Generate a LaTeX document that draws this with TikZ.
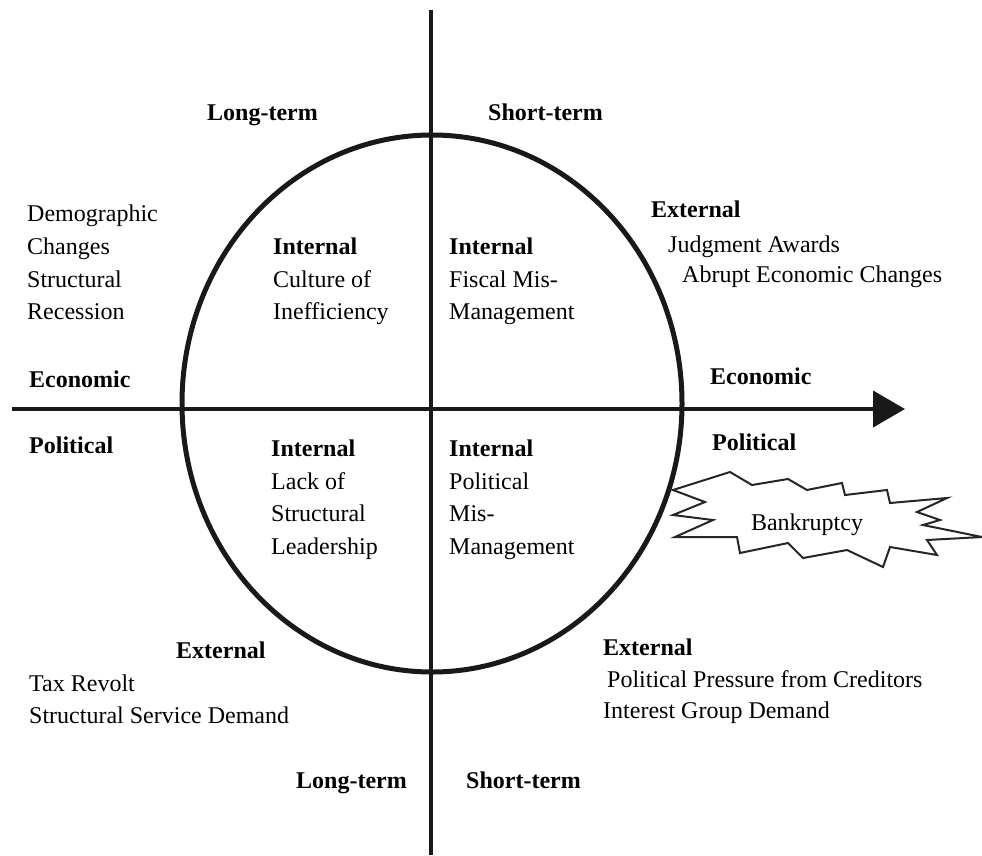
\documentclass[tikz,border=0pt]{standalone}
\usepackage{fontspec}
\setmainfont{Liberation Serif}
\usetikzlibrary{arrows.meta}
\begin{document}
\begin{tikzpicture}[x=1pt,y=-1pt,
  txt/.style={anchor=base west,inner sep=0pt,font=\fontsize{24}{28}\selectfont},
  btxt/.style={txt,font=\fontsize{24}{28}\selectfont\bfseries},
  axis/.style={line width=4pt,black!90},
  ring/.style={line width=5pt,black!90},
  burst/.style={line width=2pt,black!85,fill=white,line join=miter}]
\useasboundingbox (0,0) rectangle (982,855);
\fill[white] (0,0) rectangle (982,855);
% axes
\coordinate (vtop) at (431,10);
\coordinate (vbot) at (431,855);
\coordinate (hl) at (12,409);
\coordinate (hr) at (905,409);
\draw[axis] (vtop) -- (vbot);
\draw[axis,-{Triangle[length=32pt,width=36pt]}] (hl) -- (hr);
% circle
\coordinate (c) at (432,403.5);
\draw[ring] (c) ellipse [x radius=250, y radius=268.5];
% top labels
\node[btxt] (lt1) at (207,120) {Long-term};
\node[btxt] (st1) at (488,120) {Short-term};
% upper left external
\node[txt] (d1) at (27,221) {Demographic};
\node[txt] (d2) at (27,254) {Changes};
\node[txt] (d3) at (27,287) {Structural};
\node[txt] (d4) at (27,319) {Recession};
% quadrant UL
\node[btxt] (q1a) at (273,254) {Internal};
\node[txt] (q1b) at (273,287) {Culture of};
\node[txt] (q1c) at (273,319) {Inefficiency};
% quadrant UR
\node[btxt] (q2a) at (449,254) {Internal};
\node[txt] (q2b) at (449,287) {Fiscal Mis-};
\node[txt] (q2c) at (449,319) {Management};
% upper right external
\node[btxt] (e1) at (651,217) {External};
\node[txt] (e1a) at (668,252) {Judgment Awards};
\node[txt] (e1b) at (682,282) {Abrupt Economic Changes};
% axis labels
\node[btxt] (ecl) at (29,387) {Economic};
\node[btxt] (pol) at (29,453) {Political};
\node[btxt] (ecr) at (710,384) {Economic};
\node[btxt] (por) at (712,450) {Political};
% quadrant LL
\node[btxt] (q3a) at (271,456) {Internal};
\node[txt] (q3b) at (271,489) {Lack of};
\node[txt] (q3c) at (271,521) {Structural};
\node[txt] (q3d) at (271,554) {Leadership};
% quadrant LR
\node[btxt] (q4a) at (449,456) {Internal};
\node[txt] (q4b) at (449,489) {Political};
\node[txt] (q4c) at (449,521) {Mis-};
\node[txt] (q4d) at (449,554) {Management};
% bankruptcy burst
\draw[burst] (673,490) -- (730,472) -- (752,485) -- (788,479) -- (807,490) -- (842,483) -- (845,495)
  -- (887,490) -- (890,503) -- (947,498) -- (917,512) -- (940,520) -- (923,525) -- (982,537)
  -- (927,540) -- (937,555) -- (890,547) -- (883,567) -- (847,550) -- (803,558) -- (788,543)
  -- (740,553) -- (737,537) -- (675,537) -- (713,520) -- (673,515) -- (705,502) -- cycle;
\node[anchor=base,inner sep=0pt,font=\fontsize{24}{28}\selectfont] (bk) at (807,530) {Bankruptcy};
% lower left external
\node[btxt] (e3) at (176,658) {External};
\node[txt] (e3a) at (29,691) {Tax Revolt};
\node[txt] (e3b) at (29,723) {Structural Service Demand};
% lower right external
\node[btxt] (e4) at (603,655) {External};
\node[txt] (e4a) at (607,687) {Political Pressure from Creditors};
\node[txt] (e4b) at (603,718) {Interest Group Demand};
% bottom labels
\node[btxt] (lt2) at (296,788) {Long-term};
\node[btxt] (st2) at (466,788) {Short-term};
\end{tikzpicture}
\end{document}
